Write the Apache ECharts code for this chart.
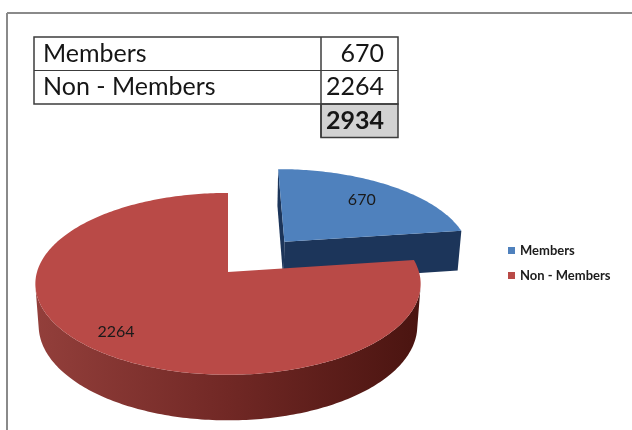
<!DOCTYPE html>
<html>
<head>
<meta charset="utf-8">
<script src="https://cdn.jsdelivr.net/npm/echarts@6/dist/echarts.min.js"></script>
<style>
  html, body { margin: 0; padding: 0; background: #ffffff; }
  #chart { width: 632px; height: 430px; }
</style>
</head>
<body>
<div id="chart"></div>
<script>
// data
const categories = ['Members', 'Non - Members']
const values = [670, 2264]
const total = values.reduce((a, b) => a + b, 0)

// slice look
const SLICE_STYLE = [
  { top: '#4f81bd', cut: '#1c355a', side: ['#2c4b77', '#1a3152'], explode: 0.47, labelR: 0.72 },
  { top: '#b94a47', cut: '#6e2522', side: ['#933f3b', '#712825', '#4a1410'], explode: 0, labelR: 0.82 },
]

// fake 3d camera (Excel style tilted pie)
const CX = 228
const CY = 272
const SCALE = 191
const TILT = (27.9 * Math.PI) / 180
const DIST = 6.78
const THICK = 0.25
const cosT = Math.cos(TILT)
const sinT = Math.sin(TILT)
const CAM = [0, DIST * sinT, -DIST * cosT]

const project = (X, Y, Z) => {
  const yc = Y * cosT + Z * sinT
  const zc = -Y * sinT + Z * cosT + DIST
  const f = DIST / zc
  return [CX + SCALE * X * f, CY - SCALE * yc * f]
}

const facing = (n, p) =>
  n[0] * (CAM[0] - p[0]) + n[1] * (CAM[1] - p[1]) + n[2] * (CAM[2] - p[2]) > 0

const deg = (d) => (d * Math.PI) / 180

const renderSlice = (params, api) => {
  const i = params.seriesIndex
  const look = SLICE_STYLE[i]
  const before = values.slice(0, i).reduce((a, b) => a + b, 0)
  const a0 = (before / total) * 360
  const a1 = a0 + (api.value(0) / total) * 360
  const mid = deg((a0 + a1) / 2)
  const ox = look.explode * Math.sin(mid)
  const oz = look.explode * Math.cos(mid)

  const steps = Math.max(8, Math.ceil(a1 - a0))
  const angles = []
  for (let k = 0; k <= steps; k++) angles.push(deg(a0 + ((a1 - a0) * k) / steps))

  const rim = (a, y) => project(ox + Math.sin(a), y, oz + Math.cos(a))
  const children = []

  // outer wall, only the runs that face the camera
  let run = []
  const flush = () => {
    if (run.length > 1) {
      const pts = run.map((a) => rim(a, 0)).concat(run.slice().reverse().map((a) => rim(a, -THICK)))
      const stops = look.side.map((c, k) => ({ offset: k / (look.side.length - 1), color: c }))
      children.push({
        type: 'polygon',
        shape: { points: pts },
        style: { fill: new echarts.graphic.LinearGradient(0, 0, 1, 0, stops), stroke: null },
      })
    }
    run = []
  }
  angles.forEach((a) => {
    const n = [Math.sin(a), 0, Math.cos(a)]
    const p = [ox + Math.sin(a), -THICK / 2, oz + Math.cos(a)]
    if (facing(n, p)) run.push(a)
    else flush()
  })
  flush()

  // radial cut faces
  const cuts = [
    [deg(a0), [-Math.cos(deg(a0)), 0, Math.sin(deg(a0))]],
    [deg(a1), [Math.cos(deg(a1)), 0, -Math.sin(deg(a1))]],
  ]
  cuts.forEach(([a, n]) => {
    const p = [ox + 0.5 * Math.sin(a), -THICK / 2, oz + 0.5 * Math.cos(a)]
    if (!facing(n, p)) return
    children.push({
      type: 'polygon',
      shape: {
        points: [project(ox, 0, oz), rim(a, 0), rim(a, -THICK), project(ox, -THICK, oz)],
      },
      style: { fill: look.cut, stroke: null },
    })
  })

  // top face
  children.push({
    type: 'polygon',
    shape: { points: [project(ox, 0, oz)].concat(angles.map((a) => rim(a, 0))) },
    style: { fill: look.top, stroke: null },
  })

  // value label
  const lp = project(ox + look.labelR * Math.sin(mid), 0, oz + look.labelR * Math.cos(mid))
  children.push({
    type: 'text',
    x: lp[0],
    y: lp[1],
    style: {
      text: String(api.value(0)),
      font: '16px Lato',
      fill: '#1a1a1a',
      align: 'center',
      verticalAlign: 'middle',
    },
  })

  return { type: 'group', children }
}

// table above the pie
const T_LEFT = 34
const T_TOP = 37
const ROW_H = 33.5
const COL_SPLIT = 321
const T_RIGHT = 398
const LINE = '#3c3c3c'

const tableGraphics = () => {
  const els = []
  const rows = categories.length
  const bottom = T_TOP + rows * ROW_H
  const totalBottom = bottom + ROW_H

  els.push({
    type: 'rect',
    shape: { x: COL_SPLIT, y: bottom, width: T_RIGHT - COL_SPLIT, height: ROW_H },
    style: { fill: '#d2d2d2', stroke: LINE, lineWidth: 1.5 },
  })
  els.push({
    type: 'rect',
    shape: { x: T_LEFT, y: T_TOP, width: T_RIGHT - T_LEFT, height: rows * ROW_H },
    style: { fill: 'none', stroke: LINE, lineWidth: 1.5 },
  })
  for (let r = 1; r < rows; r++) {
    els.push({
      type: 'line',
      shape: { x1: T_LEFT, y1: T_TOP + r * ROW_H, x2: T_RIGHT, y2: T_TOP + r * ROW_H },
      style: { stroke: LINE, lineWidth: 1.2 },
    })
  }
  els.push({
    type: 'line',
    shape: { x1: COL_SPLIT, y1: T_TOP, x2: COL_SPLIT, y2: totalBottom },
    style: { stroke: LINE, lineWidth: 1.5 },
  })

  categories.forEach((name, r) => {
    const cy = T_TOP + (r + 0.5) * ROW_H
    els.push({
      type: 'text',
      x: T_LEFT + 9,
      y: cy,
      style: { text: name, font: '25px Lato', fill: '#161616', verticalAlign: 'middle' },
    })
    els.push({
      type: 'text',
      x: T_RIGHT - 14,
      y: cy,
      style: { text: String(values[r]), font: '25px Lato', fill: '#161616', align: 'right', verticalAlign: 'middle' },
    })
  })
  els.push({
    type: 'text',
    x: T_RIGHT - 14,
    y: bottom + ROW_H / 2,
    style: { text: String(total), font: 'bold 25px Lato', fill: '#161616', align: 'right', verticalAlign: 'middle' },
  })
  return els
}

const frameGraphics = [
  { type: 'line', shape: { x1: 7, y1: 13, x2: 632, y2: 13 }, style: { stroke: '#8a8a8a', lineWidth: 2 } },
  { type: 'line', shape: { x1: 7, y1: 13, x2: 7, y2: 430 }, style: { stroke: '#8a8a8a', lineWidth: 2 } },
]

const chart = echarts.init(document.getElementById('chart'))
chart.setOption({
  animation: false,
  backgroundColor: '#ffffff',
  legend: {
    orient: 'vertical',
    left: 503,
    top: 239,
    icon: 'rect',
    itemWidth: 7,
    itemHeight: 7,
    itemGap: 12,
    data: categories,
    textStyle: { fontFamily: 'Lato', fontWeight: 'bold', fontSize: 13, color: '#1c1c1c' },
    selectedMode: false,
  },
  graphic: frameGraphics.concat(tableGraphics()),
  series: categories.map((name, i) => ({
    name,
    type: 'custom',
    coordinateSystem: 'none',
    silent: true,
    itemStyle: { color: SLICE_STYLE[i].top },
    renderItem: renderSlice,
    data: [[values[i]]],
  })),
})
</script>
</body>
</html>
